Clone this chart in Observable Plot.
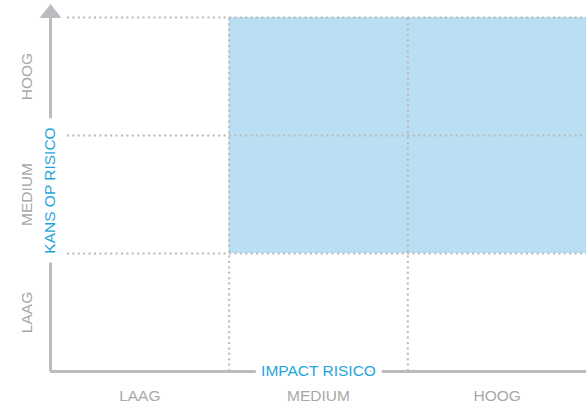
<!DOCTYPE html>
<html>
<head>
<meta charset="utf-8">
<script src="https://cdn.jsdelivr.net/npm/d3@7"></script>
<script src="https://cdn.jsdelivr.net/npm/@observablehq/plot@0.6"></script>
<style>
  html, body { margin: 0; padding: 0; background: #fff; }
  #chart svg { display: block; }
</style>
</head>
<body>
<div id="chart"></div>
<script>
// Risk matrix data
const levels = ["LAAG", "MEDIUM", "HOOG"];
const levelCenters = [0.5, 1.5, 2.5];
const gridX = [1, 2];
const gridY = [1, 2, 3];
// highlighted zone (impact medium..hoog, kans medium..hoog)
const zone = [{x1: 1, x2: 3, y1: 1, y2: 3}];
const xTitle = "IMPACT RISICO";
const yTitle = "KANS OP RISICO";

const gray = "#a8a8a8";
const blue = "#1ea6dc";
const axisGray = "#bcbcc0";
const gridGray = "#b8b8b8";
const font = "'Liberation Sans', Arial, Helvetica, sans-serif";

const arrowHead = {
  draw(ctx) {
    ctx.moveTo(0, -13.5);
    ctx.lineTo(11, 0.5);
    ctx.lineTo(-11, 0.5);
    ctx.closePath();
  }
};

const labels = levelCenters.map((v, i) => ({v, t: levels[i]}));

const chart = Plot.plot({
  width: 586,
  height: 404,
  marginLeft: 50,
  marginRight: 0,
  marginTop: 17,
  marginBottom: 33,
  x: {domain: [0, 3], axis: null},
  y: {domain: [0, 3], axis: null},
  style: {fontFamily: font, background: "#fff"},
  marks: [
    Plot.rect(zone, {x1: "x1", x2: "x2", y1: "y1", y2: "y2", fill: "#badff2"}),
    Plot.ruleY(gridY, {y: d => d, x1: 0, x2: 3, insetLeft: 17, stroke: gridGray, strokeWidth: 2, strokeDasharray: "2,3.4"}),
    Plot.ruleX(gridX, {x: d => d, y1: 0, y2: 3, stroke: gridGray, strokeWidth: 2, strokeDasharray: "2,3.4"}),
    // axes
    Plot.ruleX([0], {x: d => d, y1: 0, y2: 3, stroke: axisGray, strokeWidth: 3}),
    Plot.ruleY([0], {y: d => d, x1: 0, x2: 3, stroke: axisGray, strokeWidth: 3}),
    Plot.dot([0], {x: d => d, y: () => 3, symbol: arrowHead, fill: axisGray, stroke: "none"}),
    // axis titles with white halo to break the axis lines
    Plot.text([yTitle], {x: () => 0, y: () => 1.5, text: d => d, rotate: -90, dx: 0, dy: -4, fontSize: 15.5, fill: blue, stroke: "white", strokeWidth: 20, textAnchor: "middle", lineAnchor: "middle"}),
    Plot.text([xTitle], {x: () => 1.5, y: () => 0, text: d => d, fontSize: 15.5, fill: blue, stroke: "white", strokeWidth: 13, textAnchor: "middle", lineAnchor: "middle"}),
    // tick labels
    Plot.text(labels, {x: "v", frameAnchor: "bottom", dy: 25, text: "t", fontSize: 15.5, fill: gray, lineAnchor: "middle", textAnchor: "middle"}),
    Plot.text(labels, {y: "v", frameAnchor: "left", dx: -23, text: "t", rotate: -90, fontSize: 15.5, fill: gray, lineAnchor: "middle", textAnchor: "middle"})
  ]
});
document.getElementById("chart").appendChild(chart);
</script>
</body>
</html>
